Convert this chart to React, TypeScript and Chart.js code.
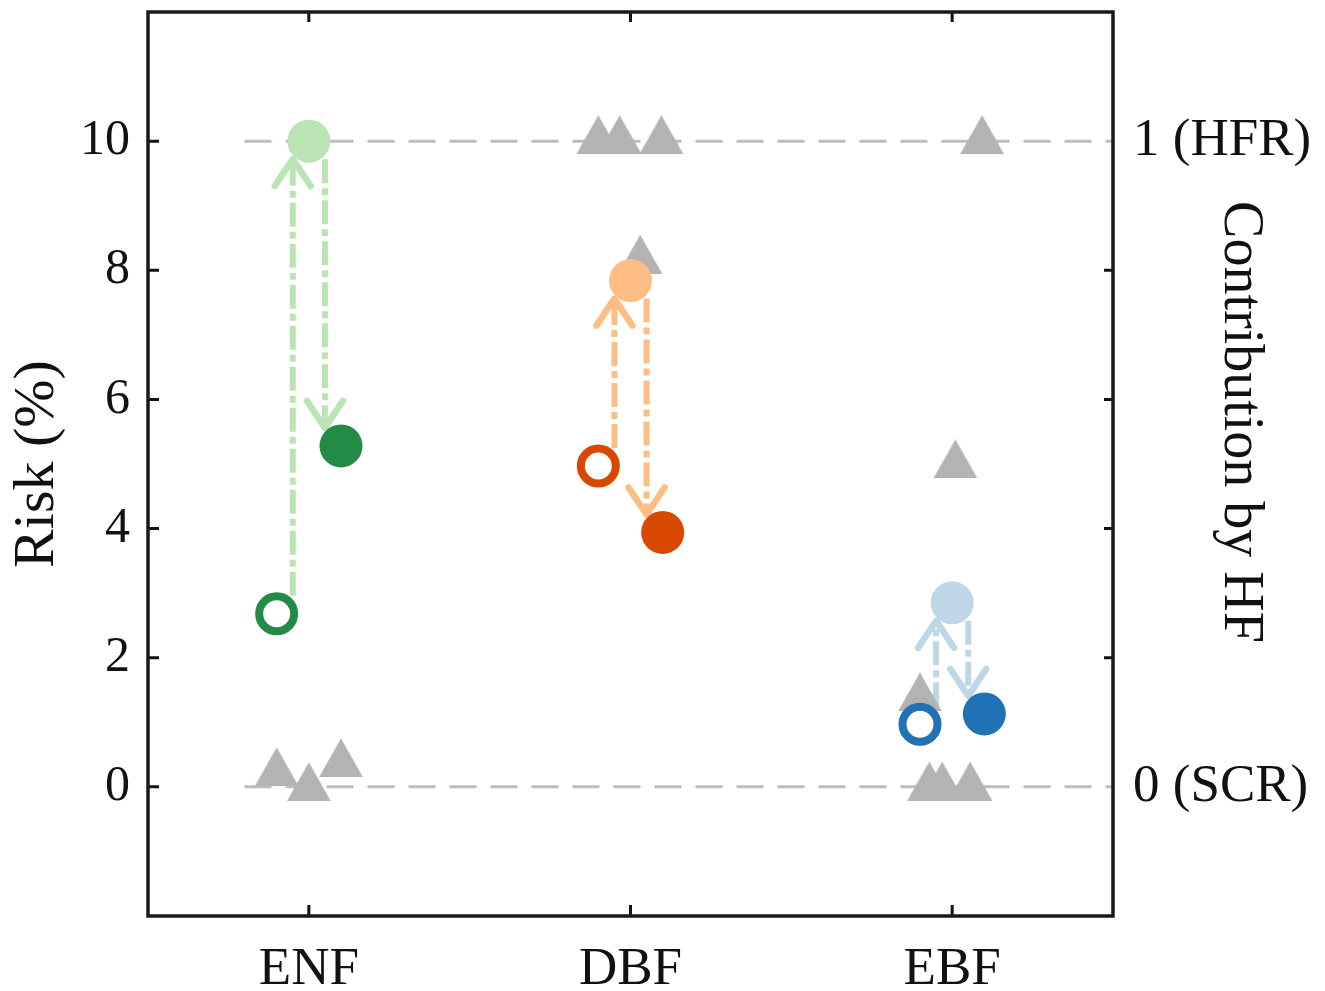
import React, { useEffect, useRef } from "react";
import { Chart, registerables } from "chart.js";

Chart.register(...registerables);

// ---- data ----
const categories = ["ENF", "DBF", "EBF"];
const riskTicks = [0, 2, 4, 6, 8, 10];
const hfTickValues = [0, 1];
const hfTickLabels = ["0 (SCR)", "1 (HFR)"];
const rightAxisTitle = "Contribution by HF";
const leftAxisTitle = "Risk (%)";

// open circles (start), light circles (peak), dark circles (end)
const openValues = [2.68, 4.97, 0.97];
const lightValues = [10.0, 7.84, 2.85];
const darkValues = [5.28, 3.94, 1.13];

const darkColors = ["#238b45", "#d94801", "#2171b5"];
const lightColors = ["#bae4b3", "#fdbe85", "#bdd7e7"];

// grey triangles (x in category units, y in risk %)
const triangleX = [-0.1, 0.0, 0.1, 0.9, 0.966, 1.096, 1.03, 1.929, 1.969, 2.056, 1.9, 2.01, 2.093];
const triangleY = [0.31, 0.08, 0.45, 10.1, 10.1, 10.1, 8.25, 0.09, 0.09, 0.09, 1.47, 5.08, 10.1];

// reference dashed lines (risk %)
const refLineValues = [0, 10];

// ---- style constants ----
const OPEN_OFF = -0.1;
const DARK_OFF = 0.1;
const UP_OFF = -0.05;
const DOWN_OFF = 0.05;
const FONT = "'Liberation Serif', 'DejaVu Serif', serif";

function makeTriangle(): HTMLCanvasElement {
  const c = document.createElement("canvas");
  const w = 44, h = 39;
  c.width = w;
  c.height = h;
  const g = c.getContext("2d")!;
  g.fillStyle = "#b3b3b3";
  g.beginPath();
  g.moveTo(w / 2, 0);
  g.lineTo(w, h);
  g.lineTo(0, h);
  g.closePath();
  g.fill();
  return c;
}

function drawArrow(ctx: CanvasRenderingContext2D, x: number, y0: number, y1: number, color: string) {
  const shrink = 18;
  const dir = y1 > y0 ? 1 : -1;
  const ys = y0 + dir * shrink;
  const ye = y1 - dir * shrink;
  ctx.save();
  ctx.strokeStyle = color;
  ctx.lineWidth = 6;
  ctx.setLineDash([24, 5, 7, 5]);
  ctx.beginPath();
  ctx.moveTo(x, ys);
  ctx.lineTo(x, ye - dir * 2);
  ctx.stroke();
  ctx.setLineDash([]);
  ctx.lineCap = "round";
  ctx.lineJoin = "round";
  ctx.lineWidth = 6.5;
  ctx.beginPath();
  ctx.moveTo(x - 18, ye - dir * 27);
  ctx.lineTo(x, ye);
  ctx.lineTo(x + 18, ye - dir * 27);
  ctx.stroke();
  ctx.restore();
}

const decorPlugin = {
  id: "decor",
  beforeDatasetsDraw(chart: any) {
    const { ctx, scales } = chart;
    const xs = scales.x, ys = scales.y;
    for (let i = 0; i < categories.length; i++) {
      drawArrow(ctx, xs.getPixelForValue(i + UP_OFF), ys.getPixelForValue(openValues[i]), ys.getPixelForValue(lightValues[i]), lightColors[i]);
      drawArrow(ctx, xs.getPixelForValue(i + DOWN_OFF), ys.getPixelForValue(lightValues[i]), ys.getPixelForValue(darkValues[i]), lightColors[i]);
    }
  },
  afterDraw(chart: any) {
    const { ctx, chartArea: a, scales } = chart;
    const xs = scales.x, ys = scales.y;
    ctx.save();
    ctx.strokeStyle = "#111";
    ctx.lineWidth = 3;
    const tl = 11;
    ctx.beginPath();
    riskTicks.forEach((v) => {
      const py = ys.getPixelForValue(v);
      ctx.moveTo(a.left, py);
      ctx.lineTo(a.left + tl, py);
      if (v !== 0 && v !== 10) {
        ctx.moveTo(a.right, py);
        ctx.lineTo(a.right - 9, py);
      }
    });
    categories.forEach((_, i) => {
      const px = xs.getPixelForValue(i);
      ctx.moveTo(px, a.bottom);
      ctx.lineTo(px, a.bottom - tl);
      ctx.moveTo(px, a.top);
      ctx.lineTo(px, a.top + 10);
    });
    ctx.stroke();
    ctx.lineWidth = 3.5;
    ctx.strokeStyle = "#1a1a1a";
    ctx.strokeRect(a.left, a.top, a.right - a.left, a.bottom - a.top);
    // right axis title
    ctx.fillStyle = "#111";
    ctx.font = `56px ${FONT}`;
    ctx.textAlign = "center";
    ctx.textBaseline = "middle";
    ctx.translate(1240, (a.top + a.bottom) / 2 - 42);
    ctx.rotate(Math.PI / 2);
    ctx.fillText(rightAxisTitle, 0, 0);
    ctx.restore();
  },
};

function noPad(s: any) {
  s.paddingTop = 0;
  s.paddingBottom = 0;
  s.paddingLeft = 0;
  s.paddingRight = 0;
}

export default function App() {
  const ref = useRef<HTMLCanvasElement | null>(null);
  useEffect(() => {
    document.body.style.margin = "0";
    const tri = makeTriangle();
    const refDatasets = refLineValues.map((v) => ({
      type: "line" as const,
      data: [{ x: -0.2, y: v }, { x: 2.5, y: v }],
      borderColor: "#bdbdbd",
      borderWidth: 3,
      borderDash: [27, 14],
      pointRadius: 0,
      fill: false,
      order: 5,
    }));
    const chart = new Chart(ref.current!, {
      type: "scatter",
      data: {
        datasets: [
          ...refDatasets,
          {
            data: triangleX.map((x, i) => ({ x, y: triangleY[i] })),
            pointStyle: tri as any,
            pointRadius: 20,
            order: 4,
          },
          {
            data: openValues.map((y, i) => ({ x: i + OPEN_OFF, y })),
            pointStyle: "circle",
            pointRadius: 17.5,
            pointBorderWidth: 8,
            pointBackgroundColor: "#ffffff",
            pointBorderColor: darkColors,
            order: 3,
          },
          {
            data: lightValues.map((y, i) => ({ x: i, y })),
            pointStyle: "circle",
            pointRadius: 21.5,
            pointBorderWidth: 0,
            pointBackgroundColor: lightColors,
            pointBorderColor: lightColors,
            order: 2,
          },
          {
            data: darkValues.map((y, i) => ({ x: i + DARK_OFF, y })),
            pointStyle: "circle",
            pointRadius: 21.5,
            pointBorderWidth: 0,
            pointBackgroundColor: darkColors,
            pointBorderColor: darkColors,
            order: 1,
          },
        ] as any,
      },
      options: {
        animation: false,
        responsive: false,
        events: [],
        layout: { autoPadding: false, padding: { top: 12, left: 0, right: 0, bottom: 0 } },
        plugins: { legend: { display: false }, tooltip: { enabled: false } },
        scales: {
          x: {
            type: "linear",
            min: -0.5,
            max: 2.5,
            afterBuildTicks: (s: any) => {
              s.ticks = categories.map((_, i) => ({ value: i }));
            },
            afterFit: (s: any) => {
              s.height = 75;
              noPad(s);
            },
            grid: { display: false, drawTicks: false },
            border: { display: false },
            ticks: {
              callback: (v: any) => categories[v] ?? "",
              font: { family: FONT, size: 53 },
              color: "#111",
              padding: 22,
              maxRotation: 0,
            },
          },
          y: {
            type: "linear",
            position: "left",
            min: -2,
            max: 12,
            afterBuildTicks: (s: any) => {
              s.ticks = riskTicks.map((v) => ({ value: v }));
            },
            afterFit: (s: any) => {
              s.width = 148;
              noPad(s);
            },
            grid: { display: false, drawTicks: false },
            border: { display: false },
            ticks: {
              font: { family: FONT, size: 50 },
              color: "#111",
              padding: 18,
            },
            title: {
              display: true,
              text: leftAxisTitle,
              font: { family: FONT, size: 58 },
              color: "#111",
              padding: { top: 3, bottom: 0 },
            },
          },
          y2: {
            type: "linear",
            position: "right",
            min: -0.2,
            max: 1.2,
            afterBuildTicks: (s: any) => {
              s.ticks = hfTickValues.map((v) => ({ value: v }));
            },
            afterFit: (s: any) => {
              s.width = 212;
              noPad(s);
            },
            grid: { display: false, drawTicks: false },
            border: { display: false },
            ticks: {
              callback: (v: any) => hfTickLabels[hfTickValues.indexOf(v)] ?? "",
              font: { family: FONT, size: 53 },
              color: "#111",
              padding: 20,
            },
          },
        },
      } as any,
      plugins: [decorPlugin],
    });
    return () => chart.destroy();
  }, []);
  return (
    <div style={{ position: "fixed", left: 0, top: 0, width: 1325, height: 991 }}>
      <canvas ref={ref} width={1325} height={991} style={{ width: 1325, height: 991 }} />
    </div>
  );
}
